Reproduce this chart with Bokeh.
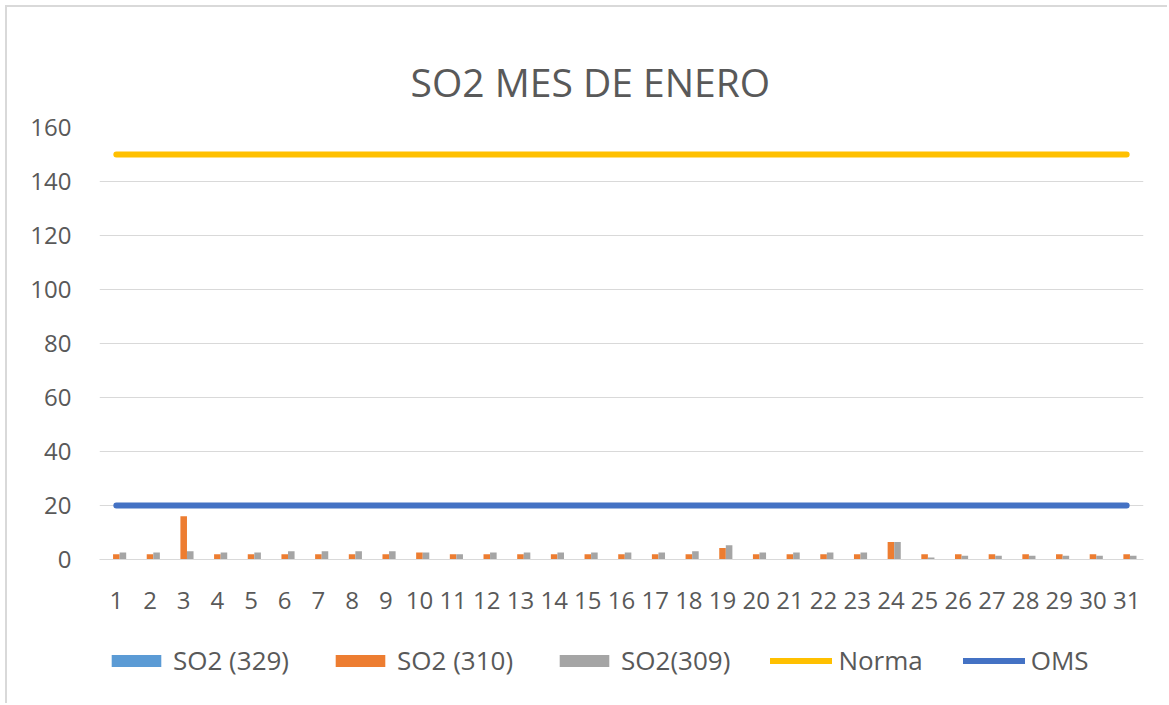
import numpy as np
from bokeh.plotting import figure
from bokeh.layouts import column
from bokeh.models import (FactorRange, Range1d, ColumnDataSource, Legend, LegendItem,
                          FixedTicker, Title)
from bokeh.transform import dodge
from bokeh.embed import file_html
from bokeh.resources import INLINE

# ---------------- data ----------------
days = ["1", "2", "3", "4", "5", "6", "7", "8", "9", "10", "11", "12", "13", "14", "15", "16",
        "17", "18", "19", "20", "21", "22", "23", "24", "25", "26", "27", "28", "29", "30", "31"]
so2_329 = [0, 0, 0, 0, 0, 0, 0, 0, 0, 0, 0, 0, 0, 0, 0, 0,
           0, 0, 0, 0, 0, 0, 0, 0, 0, 0, 0, 0, 0, 0, 0]
so2_310 = [1.9, 1.9, 16.0, 1.9, 1.9, 1.9, 1.9, 1.9, 1.9, 2.6, 1.9, 1.9, 1.9, 1.9, 1.9, 1.9,
           1.9, 1.9, 4.3, 1.9, 1.9, 1.9, 1.9, 6.5, 1.9, 1.9, 1.9, 1.9, 1.9, 1.9, 1.9]
so2_309 = [2.6, 2.6, 3.1, 2.6, 2.6, 3.1, 3.1, 3.1, 3.1, 2.6, 1.9, 2.6, 2.6, 2.6, 2.6, 2.6,
           2.6, 3.1, 5.3, 2.6, 2.6, 2.6, 2.6, 6.5, 0.7, 1.4, 1.4, 1.4, 1.4, 1.4, 1.4]
norma = [150, 150, 150, 150, 150, 150, 150, 150, 150, 150, 150, 150, 150, 150, 150, 150,
         150, 150, 150, 150, 150, 150, 150, 150, 150, 150, 150, 150, 150, 150, 150]
oms = [20, 20, 20, 20, 20, 20, 20, 20, 20, 20, 20, 20, 20, 20, 20, 20,
       20, 20, 20, 20, 20, 20, 20, 20, 20, 20, 20, 20, 20, 20, 20]
y_ticks = [0, 20, 40, 60, 80, 100, 120, 140, 160]
title_text = "SO2 MES DE ENERO"
series_labels = ["SO2 (329)", "SO2 (310)", "SO2(309)", "Norma", "OMS"]
series_colors = ["#5B9BD5", "#ED7D31", "#A5A5A5", "#FFC000", "#4472C4"]

src = ColumnDataSource(dict(day=days, a=so2_329, b=so2_310, c=so2_309, n=norma, o=oms))

FONT = "Open Sans"
TXT = "#595959"
GRID = "#D9D9D9"

# ---------------- main chart ----------------
p = figure(x_range=FactorRange(factors=days, range_padding=0, factor_padding=0),
           y_range=Range1d(0, 160),
           width=1162, height=615, output_backend="svg", toolbar_location=None,
           min_border_left=94, min_border_right=24, min_border_top=122, min_border_bottom=61)
p.outline_line_color = None
p.background_fill_color = "white"
p.border_fill_color = None

p.title = Title(text=title_text, align="left", offset=311, text_font_size="39px",
                text_font=FONT, text_color=TXT, text_font_style="normal",
                vertical_align="top", standoff=36)

bw = 0.195
r_a = p.vbar(x=dodge("day", -bw, range=p.x_range), top="a", width=bw, source=src,
             fill_color=series_colors[0], line_color=None)
r_b = p.vbar(x=dodge("day", 0, range=p.x_range), top="b", width=bw, source=src,
             fill_color=series_colors[1], line_color=None)
r_c = p.vbar(x=dodge("day", bw, range=p.x_range), top="c", width=bw, source=src,
             fill_color=series_colors[2], line_color=None)
r_n = p.line(x="day", y="n", source=src, line_color=series_colors[3], line_width=6, line_cap="round")
r_o = p.line(x="day", y="o", source=src, line_color=series_colors[4], line_width=6, line_cap="round")

p.yaxis.ticker = FixedTicker(ticks=y_ticks)
p.yaxis.axis_line_color = None
p.yaxis.major_tick_line_color = None
p.yaxis.minor_tick_line_color = None
p.yaxis.major_label_standoff = 22
p.yaxis.major_label_text_font_size = "24px"
p.yaxis.major_label_text_font = FONT
p.yaxis.major_label_text_color = TXT

p.xaxis.axis_line_color = GRID
p.xaxis.axis_line_width = 1
p.xaxis.major_tick_line_color = None
p.xaxis.minor_tick_line_color = None
p.xaxis.major_label_standoff = 26
p.xaxis.major_label_text_font_size = "24px"
p.xaxis.major_label_text_font = FONT
p.xaxis.major_label_text_color = TXT

p.xgrid.grid_line_color = None
p.ygrid.grid_line_color = GRID
p.ygrid.grid_line_width = 1

# ---------------- legend strip ----------------
lg = figure(width=1162, height=83, output_backend="svg", toolbar_location=None,
            x_axis_location=None, y_axis_location=None,
            x_range=Range1d(0, 1), y_range=Range1d(0, 1),
            min_border_left=0, min_border_right=0, min_border_top=0, min_border_bottom=0)
lg.outline_line_color = None
lg.grid.visible = False
lg.background_fill_color = None
lg.border_fill_color = None
# proxy renderers with no drawable points, only so the legend can draw its swatches
proxy = ColumnDataSource(dict(x=np.array([np.nan, np.nan]), y=np.array([np.nan, np.nan])))
items = []
for i, lab in enumerate(series_labels):
    if i < 3:
        r = lg.vbar(x="x", top="y", width=0.1, source=proxy,
                    fill_color=series_colors[i], line_color=None)
    else:
        r = lg.line(x="x", y="y", source=proxy, line_color=series_colors[i],
                    line_width=6, line_cap="round")
    items.append(LegendItem(label=lab, renderers=[r], index=0))

legend = Legend(items=items, orientation="horizontal", location=(6, 25),
                glyph_width=62, glyph_height=15, label_standoff=6, spacing=40,
                padding=0, margin=0, border_line_color=None, background_fill_alpha=0,
                label_text_font_size="26px", label_text_font=FONT, label_text_color=TXT)
lg.add_layout(legend, "center")

layout = column(p, lg, spacing=0)
layout.margin = (5, 0, 0, 5)
layout.styles = {"box-shadow": "inset 2px 2px 0 0 #D9D9D9"}

open("out.html", "w").write(file_html(layout, INLINE))
